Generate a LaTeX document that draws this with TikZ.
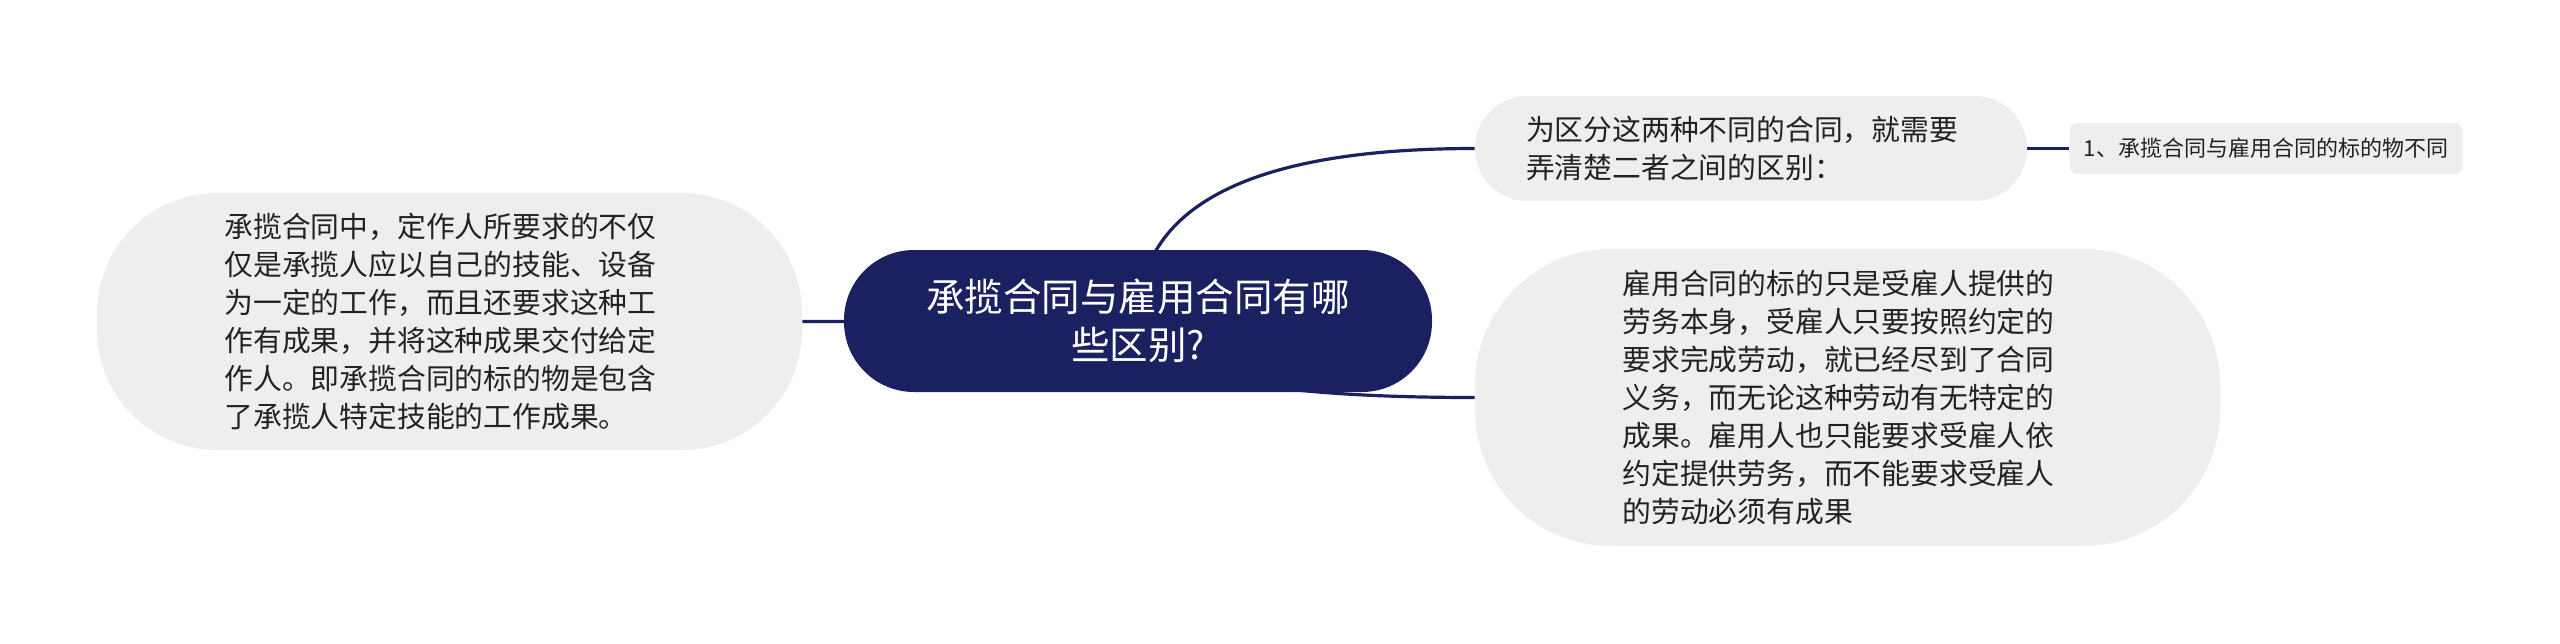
\documentclass[tikz,border=0pt]{standalone}
\usepackage{fontspec}
\setmainfont{Noto Sans CJK SC}
\usetikzlibrary{calc,backgrounds}
\definecolor{navy}{RGB}{27,32,96}
\definecolor{bubble}{RGB}{238,238,238}
\definecolor{ink}{RGB}{34,34,34}

\begin{document}
\begin{tikzpicture}[x=0.5pt,y=-0.5pt,
    topic/.style={fill=navy,text=white,rounded corners=35pt,minimum width=294pt,minimum height=71pt,inner sep=0pt,align=center,font=\fontsize{19.25}{24}\selectfont},
    bubble/.style={fill=bubble,text=ink,inner sep=0pt,align=left,text width=225pt,font=\fontsize{14.4}{19}\selectfont},
    leaf/.style={fill=bubble,text=ink,rounded corners=4pt,minimum width=196.5pt,minimum height=25.5pt,inner sep=0pt,font=\fontsize{11}{13}\selectfont},
    link/.style={draw=navy,line width=1.6pt}]
    \useasboundingbox (0,0) rectangle (2560,643);

    \coordinate (c0) at (1138,321);
    \coordinate (c1) at (449.5,321.5);
    \coordinate (c2) at (1751,148.5);
    \coordinate (c3) at (1847.5,397.5);
    \coordinate (c4) at (2266,148.5);

    \node (topic) at (c0) [topic] {承揽合同与雇用合同有哪\\些区别?};
    \node (lft) at (c1) [bubble,rounded corners=60pt,minimum width=352.5pt,minimum height=128.5pt]
        {承揽合同中，定作人所要求的不仅\\仅是承揽人应以自己的技能、设备\\为一定的工作，而且还要求这种工\\作有成果，并将这种成果交付给定\\作人。即承揽合同的标的物是包含\\了承揽人特定技能的工作成果。};
    \node (rtop) at (c2) [bubble,rounded corners=26pt,minimum width=276pt,minimum height=52.5pt]
        {为区分这两种不同的合同，就需要\\弄清楚二者之间的区别：};
    \node (rbot) at (c3) [bubble,rounded corners=68pt,minimum width=372.5pt,minimum height=148.5pt]
        {雇用合同的标的只是受雇人提供的\\劳务本身，受雇人只要按照约定的\\要求完成劳动，就已经尽到了合同\\义务，而无论这种劳动有无特定的\\成果。雇用人也只能要求受雇人依\\约定提供劳务，而不能要求受雇人\\的劳动必须有成果};
    \node (leaf) at (c4) [leaf] {1、承揽合同与雇用合同的标的物不同};

    \begin{scope}[on background layer]
        \draw[link] (topic.center) -- (lft.east);
        \draw[link] (topic.center) .. controls ($(topic.center)!2/3!(topic.center |- rtop.west)$) and ($(rtop.west)!2/3!(topic.center |- rtop.west)$) .. (rtop.west);
        \draw[link] (topic.center) .. controls ($(topic.center)!2/3!(topic.center |- rbot.west)$) and ($(rbot.west)!2/3!(topic.center |- rbot.west)$) .. (rbot.west);
        \draw[link] (rtop.east) -- (leaf.west);
    \end{scope}
\end{tikzpicture}
\end{document}
